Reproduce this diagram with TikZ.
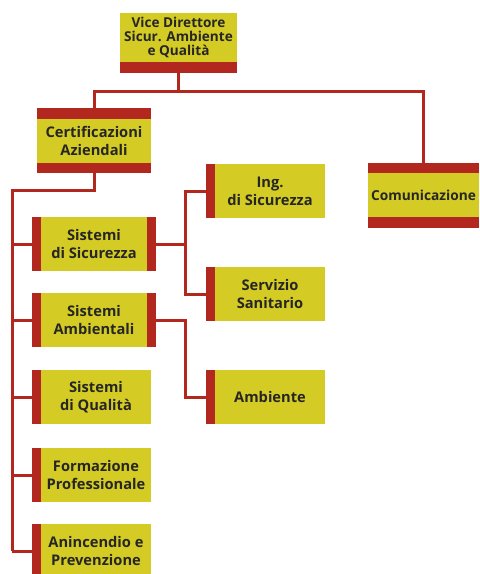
\documentclass[tikz,border=0pt]{standalone}
\usepackage{fontspec}
\setmainfont{Open Sans}
\definecolor{orgred}{RGB}{178,40,30}
\definecolor{orgyellow}{RGB}{212,203,36}
\def\px{0.75pt}
\tikzset{
  unit/.style={fill=orgyellow, inner sep=0pt, outer sep=0pt, align=center,
    text=black!85, font=\bfseries\fontsize{11}{13.5}\selectfont},
  link/.style={draw=orgred, line width=3*\px},
}

\begin{document}
\begin{tikzpicture}[x=\px, y=-\px]
    \pgfmathsetmacro{\barwidth}{9}   % red strip at the side of a box
    \pgfmathsetmacro{\barheight}{11} % red strip above / below a box
    \pgfmathsetmacro{\boxheight}{54}
    \useasboundingbox (0,0) rectangle (479,574);
    % top level
    \node[unit, minimum width=117*\px, minimum height=49*\px, font=\bfseries\fontsize{10.2}{10.2}\selectfont] (vice) at (178.5,37.5) {Vice Direttore\\Sicur. Ambiente\\e Qualità};
    \node[unit, minimum width=114*\px, minimum height=44*\px] (cert) at (94,141) {Certificazioni\\Aziendali};
    \node[unit, minimum width=111*\px, minimum height=44*\px, font=\bfseries\fontsize{10.3}{12}\selectfont] (comm) at (423.5,195) {Comunicazione};
    % left column
    \node[unit, minimum width=106*\px, minimum height=\boxheight*\px] (sicur) at (94,244) {Sistemi\\di Sicurezza};
    \node[unit, minimum width=106*\px, minimum height=\boxheight*\px] (ambi) at (94,320) {Sistemi\\Ambientali};
    \node[unit, minimum width=110*\px, minimum height=\boxheight*\px] (qual) at (96,397) {Sistemi\\di Qualità};
    \node[unit, minimum width=110*\px, minimum height=\boxheight*\px] (form) at (96,475) {Formazione\\Professionale};
    \node[unit, minimum width=110*\px, minimum height=\boxheight*\px] (anti) at (96,551) {Anincendio e\\Prevenzione};
    % right column
    \node[unit, minimum width=110*\px, minimum height=\boxheight*\px] (ing) at (270,191) {Ing.\\di Sicurezza};
    \node[unit, minimum width=110*\px, minimum height=\boxheight*\px] (serv) at (270,294) {Servizio\\Sanitario};
    \node[unit, minimum width=110*\px, minimum height=\boxheight*\px] (amb) at (270,397) {Ambiente};

    \coordinate (spine) at (12,190);
    \draw[link] (vice.south) -- ++(0,30) coordinate (hub);
    \draw[link] (cert.north) |- (hub) -| (comm.north);
    \draw[link] (cert.south) |- (spine) -- (spine |- anti.west);
    \foreach \b in {sicur,ambi,qual,form,anti}
        \draw[link] (\b.west) -- (spine |- \b.west);
    \draw[link] (sicur.east) -- ++(38,0) coordinate (fork);
    \draw[link] (ing.west) -| (fork) |- (serv.west);
    \draw[link] (ambi.east) -- ++(38,0) |- (amb.west);

    % red strips
    \fill[orgred] (vice.south west) rectangle ++(117,\barheight);
    \fill[orgred] (cert.north west) rectangle ++(114,-\barheight);
    \fill[orgred] (cert.south west) rectangle ++(114,10);
    \fill[orgred] (comm.north west) rectangle ++(111,-10);
    \fill[orgred] (comm.south west) rectangle ++(111,\barheight);
    \foreach \b in {sicur,ambi,qual,form,anti,ing,serv,amb}
        \fill[orgred] (\b.north west) rectangle ++(-\barwidth,\boxheight);
    \foreach \b in {sicur,ambi}
        \fill[orgred] (\b.north east) rectangle ++(\barwidth,\boxheight);
\end{tikzpicture}
\end{document}
